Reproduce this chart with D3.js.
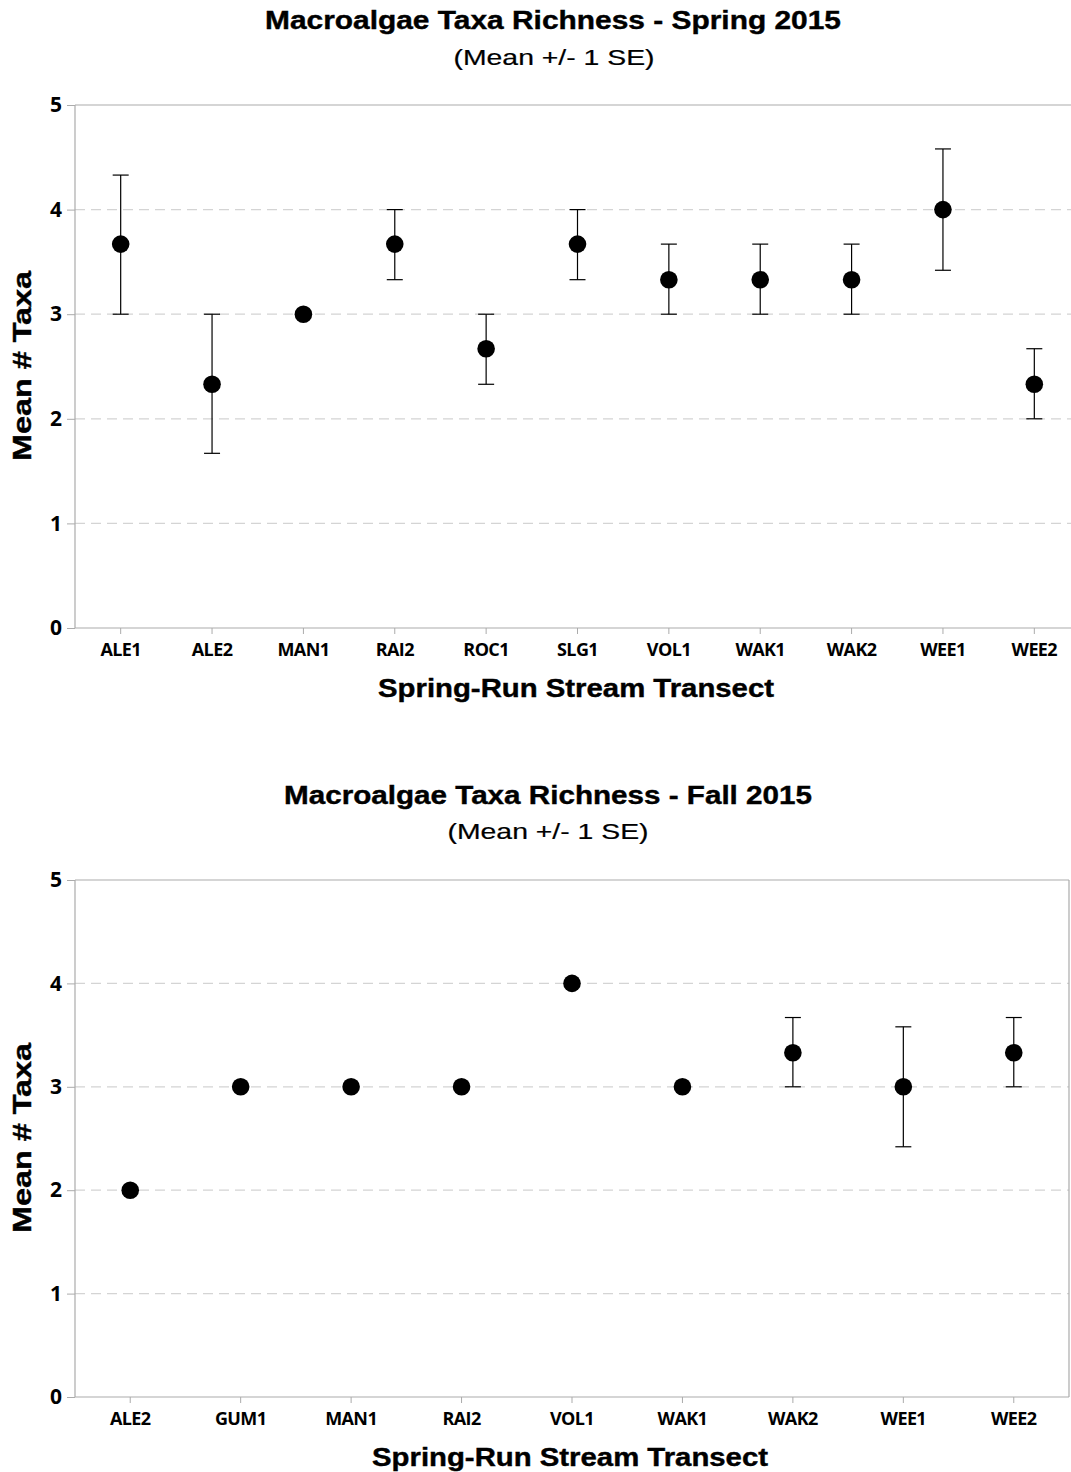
<!DOCTYPE html>
<html>
<head>
<meta charset="utf-8">
<script src="https://cdn.jsdelivr.net/npm/d3@7"></script>
<style>
  html, body { margin: 0; padding: 0; background: #fff; }
  svg { display: block; }
  .title { font-family: "Liberation Sans", Arial, sans-serif; font-weight: bold; font-size: 25px; stroke: #000; stroke-width: 0.4px; }
  .subtitle { font-family: "Liberation Sans", Arial, sans-serif; font-size: 22px; stroke: #000; stroke-width: 0.2px; }
  .tick-y { font-family: "Open Sans", sans-serif; font-weight: bold; font-size: 21px; }
  .tick-x { font-family: "Open Sans", sans-serif; font-weight: bold; font-size: 18px; letter-spacing: -0.6px; }
  .axis-title { font-family: "Liberation Sans", Arial, sans-serif; font-weight: bold; font-size: 25px; stroke: #000; stroke-width: 0.4px; }
</style>
</head>
<body>
<svg id="chart" width="1071" height="1472"></svg>
<script>
// Spring 2015 survey: mean taxa per transect with +/- 1 SE bounds
const springSites = ["ALE1", "ALE2", "MAN1", "RAI2", "ROC1", "SLG1", "VOL1", "WAK1", "WAK2", "WEE1", "WEE2"];
const springMean  = [3.67, 2.33, 3.0, 3.67, 2.67, 3.67, 3.33, 3.33, 3.33, 4.0, 2.33];
const springLow   = [3.0, 1.67, 3.0, 3.33, 2.33, 3.33, 3.0, 3.0, 3.0, 3.42, 2.0];
const springHigh  = [4.33, 3.0, 3.0, 4.0, 3.0, 4.0, 3.67, 3.67, 3.67, 4.58, 2.67];

// Fall 2015 survey
const fallSites = ["ALE2", "GUM1", "MAN1", "RAI2", "VOL1", "WAK1", "WAK2", "WEE1", "WEE2"];
const fallMean  = [2.0, 3.0, 3.0, 3.0, 4.0, 3.0, 3.33, 3.0, 3.33];
const fallLow   = [2.0, 3.0, 3.0, 3.0, 4.0, 3.0, 3.0, 2.42, 3.0];
const fallHigh  = [2.0, 3.0, 3.0, 3.0, 4.0, 3.0, 3.67, 3.58, 3.67];

const yTicks = [0, 1, 2, 3, 4, 5];

const svg = d3.select("#chart");

function drawPanel(opts) {
  const { sites, mean, low, high, title, subtitle, left, right, top, bottom,
          titleX, titleY, titleLen, subX, subY, subLen, xTitleX, xTitleY, yTitleY } = opts;
  const g = svg.append("g");

  const x = d3.scaleBand().domain(sites).range([left, right]);
  const y = d3.scaleLinear().domain([0, 5]).range([bottom, top]);

  // dashed grid lines
  g.selectAll("line.grid").data(yTicks.filter(t => t > 0 && t < 5)).join("line")
    .attr("x1", left).attr("x2", right)
    .attr("y1", d => y(d)).attr("y2", d => y(d))
    .attr("stroke", "#d4d4d4").attr("stroke-width", 1.3)
    .attr("stroke-dasharray", "10,6");

  // frame
  const frame = [
    [left, y(5), right, y(5)], [left, y(0), right, y(0)],
    [left, y(5), left, y(0)], [right, y(5), right, y(0)]
  ];
  g.selectAll("line.frame").data(frame).join("line")
    .attr("x1", d => d[0]).attr("y1", d => d[1]).attr("x2", d => d[2]).attr("y2", d => d[3])
    .attr("stroke", "#ababab").attr("stroke-width", 1.2);

  // y axis
  const yAxis = d3.axisLeft(y).tickValues(yTicks).tickFormat(d3.format("d")).tickSize(8).tickPadding(5);
  const ya = g.append("g").attr("transform", `translate(${left},0)`).call(yAxis);
  ya.select(".domain").remove();
  ya.selectAll(".tick line").attr("stroke", "#ababab");
  ya.selectAll(".tick text").attr("class", "tick-y").attr("fill", "#000");
  ya.attr("font-size", null).attr("font-family", null);

  // x axis
  const xAxis = d3.axisBottom(x).tickSize(6).tickPadding(9);
  const xa = g.append("g").attr("transform", `translate(0,${bottom})`).call(xAxis);
  xa.select(".domain").remove();
  xa.selectAll(".tick line").attr("stroke", "#ababab");
  xa.selectAll(".tick text").attr("class", "tick-x").attr("fill", "#000");
  xa.attr("font-size", null).attr("font-family", null);

  const cx = d => x(d) + x.bandwidth() / 2;

  // error bars with caps
  const idx = d3.range(sites.length).filter(i => high[i] !== low[i]);
  const eb = g.selectAll("g.err").data(idx).join("g");
  eb.append("line")
    .attr("x1", i => cx(sites[i])).attr("x2", i => cx(sites[i]))
    .attr("y1", i => y(low[i])).attr("y2", i => y(high[i]))
    .attr("stroke", "#000").attr("stroke-width", 1.2);
  [low, high].forEach(arr => {
    eb.append("line")
      .attr("x1", i => cx(sites[i]) - 8).attr("x2", i => cx(sites[i]) + 8)
      .attr("y1", i => y(arr[i])).attr("y2", i => y(arr[i]))
      .attr("stroke", "#000").attr("stroke-width", 1.2);
  });

  // means
  g.selectAll("circle.mean").data(sites).join("circle")
    .attr("cx", d => cx(d)).attr("cy", (d, i) => y(mean[i]))
    .attr("r", 8.8).attr("fill", "#000");

  // titles
  g.append("text").attr("class", "title").attr("x", titleX).attr("y", titleY)
    .attr("text-anchor", "middle")
    .attr("textLength", titleLen).attr("lengthAdjust", "spacingAndGlyphs").text(title);
  g.append("text").attr("class", "subtitle").attr("x", subX).attr("y", subY)
    .attr("text-anchor", "middle")
    .attr("textLength", subLen).attr("lengthAdjust", "spacingAndGlyphs").text(subtitle);
  g.append("text").attr("class", "axis-title").attr("x", xTitleX).attr("y", xTitleY)
    .attr("text-anchor", "middle")
    .attr("textLength", 396).attr("lengthAdjust", "spacingAndGlyphs")
    .text("Spring-Run Stream Transect");
  g.append("text").attr("class", "axis-title")
    .attr("transform", `translate(31,${yTitleY}) rotate(-90)`)
    .attr("text-anchor", "middle")
    .attr("textLength", 190).attr("lengthAdjust", "spacingAndGlyphs")
    .text("Mean  #  Taxa");
}

drawPanel({
  sites: springSites, mean: springMean, low: springLow, high: springHigh,
  title: "Macroalgae  Taxa Richness - Spring 2015", subtitle: "(Mean +/- 1 SE)",
  left: 75, right: 1080, top: 105, bottom: 628,
  titleX: 553, titleY: 29, titleLen: 576, subX: 554, subY: 65, subLen: 201,
  xTitleX: 576, xTitleY: 697, yTitleY: 366
});

drawPanel({
  sites: fallSites, mean: fallMean, low: fallLow, high: fallHigh,
  title: "Macroalgae  Taxa Richness - Fall 2015", subtitle: "(Mean +/- 1 SE)",
  left: 75, right: 1069, top: 880, bottom: 1397,
  titleX: 548, titleY: 804, titleLen: 528, subX: 548, subY: 839, subLen: 201,
  xTitleX: 570, xTitleY: 1466, yTitleY: 1138
});
</script>
</body>
</html>
